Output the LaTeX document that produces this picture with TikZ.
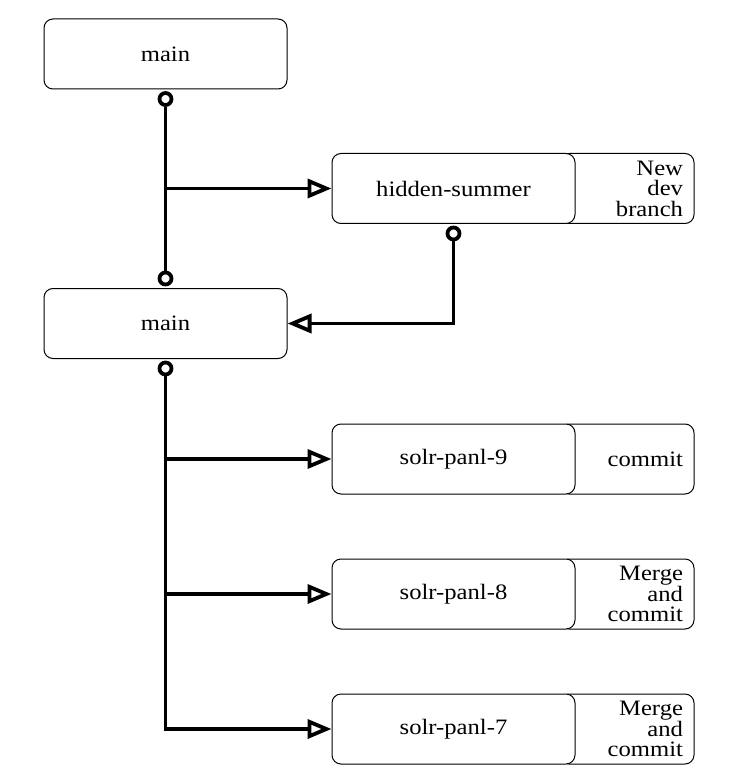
\documentclass[tikz,border=0pt]{standalone}
\usepackage{fontspec}
\setmainfont[FakeStretch=1.12]{Liberation Serif}
\usetikzlibrary{arrows.meta}
\begin{document}
\begin{tikzpicture}[x=1pt,y=-1pt,
  txt/.style={font=\fontsize{22}{20.5}\selectfont},
  box/.style={txt, draw, line width=1pt, rounded corners=9pt, fill=white,
    minimum width=243pt, minimum height=70pt, inner sep=0pt},
  note/.style={txt, draw, line width=1pt, rounded corners=9pt, fill=white,
    minimum width=134pt, minimum height=70pt, inner xsep=11pt, inner ysep=0pt,
    text width=112pt, align=right},
  dot/.style={circle, draw, line width=3.8pt, fill=white, minimum size=12pt, inner sep=0pt},
  link/.style={line width=3.8pt},
  arr/.style={link, -{Triangle[open, length=24pt, width=19pt]}}]
\useasboundingbox (0,0) rectangle (739,783);

\node[box] (main1) at (165.5,54) {main};
\node[box] (main2) at (165.5,323.5) {main};

\node[note] (n1) at (627,188.5) {New\\dev\\branch};
\node[box] (hs) at (453.5,188.5) {hidden-summer};

\node[note] (n9) at (627,459) {commit};
\node[box] (s9) at (453.5,459) {solr-panl-9};

\node[note] (n8) at (627,594) {Merge\\and\\commit};
\node[box] (s8) at (453.5,594) {solr-panl-8};

\node[note] (n7) at (627,729) {Merge\\and\\commit};
\node[box] (s7) at (453.5,729) {solr-panl-7};

\node[dot] (d1) at ([yshift=-9.5pt]main1.south) {};
\node[dot] (d2) at ([yshift=9.5pt]main2.north) {};
\node[dot] (d3) at ([yshift=-9.5pt]hs.south) {};
\node[dot] (d4) at ([yshift=-9.5pt]main2.south) {};

\draw[link] (d1) -- (d2);
\draw[arr] (d1 |- hs.west) -- (hs.west);
\draw[arr] (d3) |- (main2.east);
\draw[arr] (d4) |- (s7.west);
\draw[arr] (d4 |- s9.west) -- (s9.west);
\draw[arr] (d4 |- s8.west) -- (s8.west);
\end{tikzpicture}
\end{document}
